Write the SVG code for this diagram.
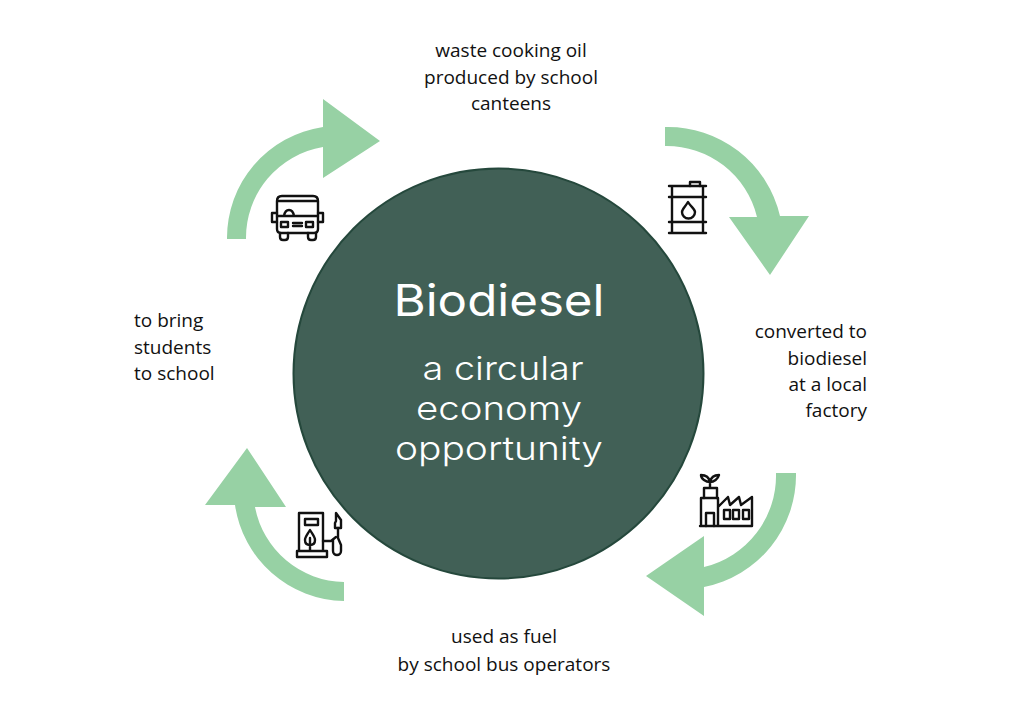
<svg xmlns="http://www.w3.org/2000/svg" width="1024" height="708" viewBox="0 0 1024 708">
<style>
.l{font-family:"Open Sans","Noto Sans",sans-serif;font-size:19px;fill:#111}
.t{font-family:"Inter","Liberation Sans",sans-serif;fill:#fff;font-weight:300;text-anchor:middle}
.arrow{fill:#97d1a4}
.ic{fill:none;stroke:#111;stroke-width:2.4;stroke-linejoin:round;stroke-linecap:round}
</style>
<rect width="1024" height="708" fill="#fff"/>
<g id="connectors">
<path class="arrow" d="M665 127A115 115 0 0 1 780 216H809L770 275L729 217H757A93 93 0 0 0 665 146Z"/>
<path class="arrow" d="M796 473A114 114 0 0 1 704 587V616L646 576L704 536V567A94 94 0 0 0 776 473Z"/>
<path class="arrow" d="M344 601A112 112 0 0 1 235 505H205L247 448L286 507H255A92 92 0 0 0 344 582Z"/>
<path class="arrow" d="M227 239A112 112 0 0 1 323 127V99L380 141L323 178V147A92 92 0 0 0 246 239Z"/>
</g>
<g id="hub">
<circle cx="498.500" cy="373.500" r="205" fill="#416056" stroke="#25483c" stroke-width="2"/>
<text class="t" x="499" y="316" font-size="44" style="font-weight:400" textLength="211" lengthAdjust="spacingAndGlyphs">Biodiesel</text>
<text class="t" x="503" y="380" font-size="33" textLength="161" lengthAdjust="spacingAndGlyphs">a circular</text>
<text class="t" x="499" y="420" font-size="33" textLength="166" lengthAdjust="spacingAndGlyphs">economy</text>
<text class="t" x="499" y="460" font-size="33" textLength="208" lengthAdjust="spacingAndGlyphs">opportunity</text>
</g>
<g id="node-oil">
<text class="l" text-anchor="middle" x="511" y="57">waste cooking oil</text>
<text class="l" text-anchor="middle" x="511" y="84">produced by school</text>
<text class="l" text-anchor="middle" x="511" y="110">canteens</text>
<g class="ic"><path d="M669 186H706M669 197H706M669 222H706M669 233H706M672 186V233M703 186V233"/><path d="M690 186V182H700V186"/><path d="M688 202C685 207 682 209 682 212A6.500 6.500 0 0 0 695 212C695 209 691 207 688 202Z"/></g>
</g>
<g id="node-factory">
<text class="l" text-anchor="end" x="867" y="338">converted to</text>
<text class="l" text-anchor="end" x="867" y="365">biodiesel</text>
<text class="l" text-anchor="end" x="867" y="391">at a local</text>
<text class="l" text-anchor="end" x="867" y="417">factory</text>
<g class="ic"><path d="M701 526V498H718V526ZM700 526H752V497L741 505L739 497L730 505L728 497L718 507"/><path d="M704 498V488H717V498M710 488V482M710 482C706 482 701 479 701 475C706 475 709 477 710 482C711 477 714 475 719 475C718 479 714 482 710 482Z"/><path d="M706 526V513H714V526M724 510H730V519H724ZM733 510H739V519H733ZM743 510H749V519H743Z"/></g>
</g>
<g id="node-bus-operators">
<text class="l" text-anchor="middle" x="504" y="643">used as fuel</text>
<text class="l" text-anchor="middle" x="504" y="671">by school bus operators</text>
<g class="ic"><path d="M299 551V513H323V551M297 551H327V557H297Z"/><path d="M305 519H318V525H305ZM310 530C307 535 305 537 305 540C305 543 307 545 310 545C313 545 315 543 315 540C315 537 313 535 310 530ZM310 538V550"/><path d="M323 541H331L336 537"/><path d="M333 540V551A4 4 0 0 0 341 551V545L338 538V528"/><path d="M335 528H341V520L336 513V521L335 523Z"/></g>
</g>
<g id="node-students">
<text class="l" x="134" y="327">to bring</text>
<text class="l" x="134" y="354">students</text>
<text class="l" x="134" y="380">to school</text>
<g class="ic"><path d="M277 229V201Q277 196 282 196H313Q318 196 318 201V229Q318 233 314 233H281Q277 233 277 229ZM277 201H318"/><path d="M284 216Q285 210 289 210Q293 210 294 216M277 216H318"/><path d="M277 213H272V222H277M318 213H323V222H318M280 233V237Q280 240 283 240H285Q288 240 288 237V233M308 233V237Q308 240 311 240H313Q316 240 316 237V233"/><path d="M281 222H288V227H281ZM306 222H313V227H306ZM293 223H302M293 226H302"/></g>
</g>
</svg>
